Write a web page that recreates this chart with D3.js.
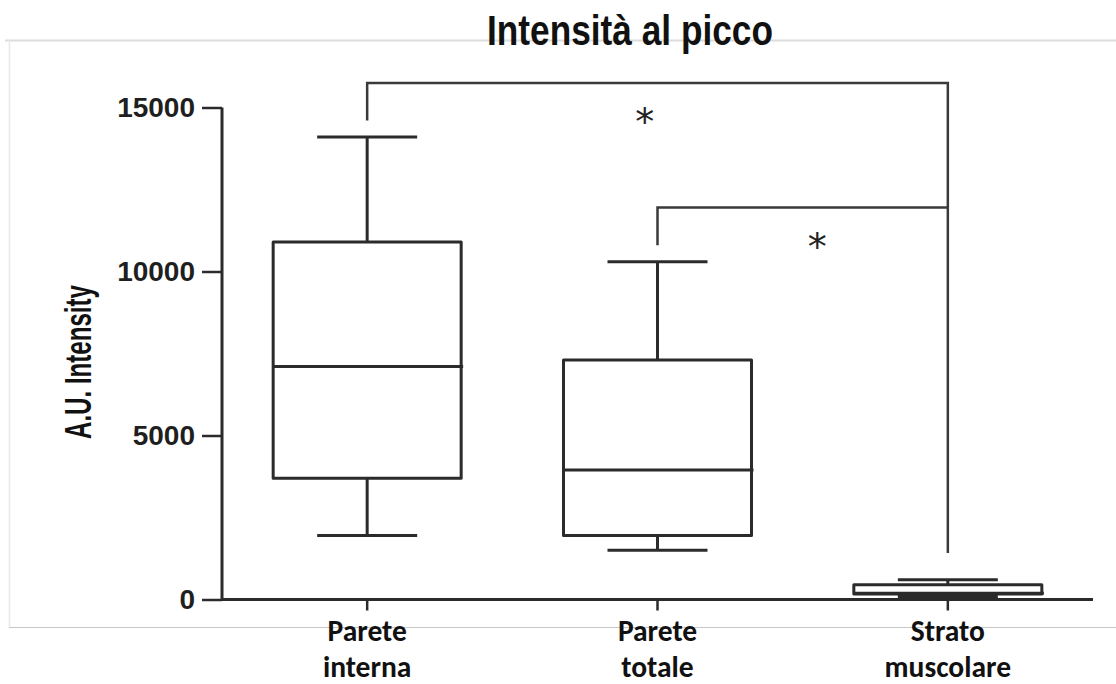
<!DOCTYPE html>
<html>
<head>
<meta charset="utf-8">
<script src="https://cdn.jsdelivr.net/npm/d3@7"></script>
<style>
  html, body { margin: 0; padding: 0; background: #fff; }
  svg { display: block; }
</style>
</head>
<body>
<svg id="chart" width="1116" height="684"></svg>
<script>
// Peak intensity per tissue layer (box-and-whisker summary)
const categories = ["Parete interna", "Parete totale", "Strato muscolare"];
const labelLines = [["Parete", "interna"], ["Parete", "totale"], ["Strato", "muscolare"]];
const whiskerHigh = [14100, 10300, 600];
const quartile3   = [10900, 7300, 450];
const medians     = [7100, 3950, 190];
const quartile1   = [3700, 1950, 170];
const whiskerLow  = [1950, 1500, 90];
const yTicks = [0, 5000, 10000, 15000];

// Significance brackets: from group -> to group, bar height, leg ends
const brackets = [
  { from: 0, to: 2, level: 15750, leftEnd: 14600, rightEnd: 1420, label: "*" },
  { from: 1, to: 2, level: 11950, leftEnd: 10800, rightEnd: 11950, label: "*" }
];
// where each star sits along its bracket (fraction of the span)
const starAt = [0.478, 0.55];

const svg = d3.select("#chart");
const ink = "#2b2b2b";

// Picture frame
svg.append("line").attr("x1", 5).attr("x2", 1116).attr("y1", 40.5).attr("y2", 40.5)
  .attr("stroke", "#dcdcdc").attr("stroke-width", 2);
svg.append("line").attr("x1", 9.5).attr("x2", 9.5).attr("y1", 40).attr("y2", 628)
  .attr("stroke", "#e8e8e8").attr("stroke-width", 1.5);
svg.append("line").attr("x1", 9).attr("x2", 1116).attr("y1", 627.5).attr("y2", 627.5)
  .attr("stroke", "#c8c8c8").attr("stroke-width", 1);

const x = d3.scaleBand().domain(categories).range([222, 1093]).paddingInner(0).paddingOuter(0);
const y = d3.scaleLinear().domain([0, 15000]).range([599.5, 107.5]);
const cx = c => x(c) + x.bandwidth() / 2;
const boxW = 188, capW = 100;
const narrow = "'Liberation Sans Narrow', 'Arial Narrow', 'Liberation Sans', Arial, sans-serif";

// Title
svg.append("text")
  .attr("x", 630).attr("y", 45)
  .attr("text-anchor", "middle")
  .attr("font-family", narrow)
  .attr("font-weight", "bold").attr("font-size", 43)
  .attr("textLength", 286).attr("lengthAdjust", "spacingAndGlyphs")
  .attr("fill", "#111")
  .text("Intensità al picco");

// Y axis
const yAxis = svg.append("g")
  .attr("transform", "translate(222,0)")
  .call(d3.axisLeft(y).tickValues(yTicks).tickSize(20).tickPadding(7).tickFormat(d3.format("d")));
yAxis.select(".domain").attr("stroke", ink).attr("stroke-width", 3).attr("d", `M0,${y(15000)}V${y(0)}`);
yAxis.selectAll(".tick line").attr("stroke", ink).attr("stroke-width", 2.5);
yAxis.selectAll(".tick text")
  .attr("font-family", "'Liberation Sans', Arial, sans-serif")
  .attr("font-weight", "bold").attr("font-size", 28).attr("fill", "#1f1f1f");

// Y axis title
svg.append("text")
  .attr("transform", `translate(91,362) rotate(-90)`)
  .attr("text-anchor", "middle")
  .attr("font-family", narrow)
  .attr("font-weight", "bold").attr("font-size", 37)
  .attr("textLength", 154).attr("lengthAdjust", "spacingAndGlyphs")
  .attr("fill", "#111")
  .text("A.U. Intensity");

// X axis
const xAxis = svg.append("g")
  .attr("transform", `translate(0,${y(0)})`)
  .call(d3.axisBottom(x).tickSize(11).tickFormat(""));
xAxis.select(".domain").attr("stroke", ink).attr("stroke-width", 3).attr("d", `M222,0H1093`);
xAxis.selectAll(".tick line").attr("stroke", ink).attr("stroke-width", 2.5);

// Category labels (two lines each, drawn as separate text rows)
const rows = svg.append("g")
  .attr("text-anchor", "middle")
  .attr("font-family", "Carlito, Lato, 'Open Sans', sans-serif")
  .attr("font-weight", "bold").attr("font-size", 29.5).attr("fill", "#111");
categories.forEach((c, i) => {
  rows.selectAll(null).data(labelLines[i]).join("text")
    .attr("x", cx(c))
    .attr("y", (t, j) => 641 + j * 36)
    .text(t => t);
});

// Boxes
const g = svg.append("g").attr("fill", "none").attr("stroke", ink).attr("stroke-width", 3)
  .attr("stroke-linejoin", "round");
categories.forEach((c, i) => {
  const xc = cx(c);
  g.append("line").attr("x1", xc).attr("x2", xc).attr("y1", y(whiskerHigh[i])).attr("y2", y(quartile3[i]));
  g.append("line").attr("x1", xc).attr("x2", xc).attr("y1", y(quartile1[i])).attr("y2", y(whiskerLow[i]));
  g.append("line").attr("x1", xc - capW / 2).attr("x2", xc + capW / 2)
    .attr("y1", y(whiskerHigh[i])).attr("y2", y(whiskerHigh[i]));
  g.append("line").attr("x1", xc - capW / 2).attr("x2", xc + capW / 2)
    .attr("y1", y(whiskerLow[i])).attr("y2", y(whiskerLow[i]));
  g.append("rect").attr("x", xc - boxW / 2).attr("width", boxW)
    .attr("y", y(quartile3[i])).attr("height", y(quartile1[i]) - y(quartile3[i]))
    .attr("fill", "#fff");
  g.append("line").attr("x1", xc - boxW / 2).attr("x2", xc + boxW / 2 + 2)
    .attr("y1", y(medians[i])).attr("y2", y(medians[i]));
});

// Significance brackets
const b = svg.append("g").attr("fill", "none").attr("stroke", "#3a3a3a").attr("stroke-width", 2.5);
brackets.forEach((br, k) => {
  const x1 = cx(categories[br.from]), x2 = cx(categories[br.to]);
  b.append("path").attr("d",
    `M${x1},${y(br.leftEnd)}V${y(br.level)}H${x2}V${y(br.rightEnd)}`);
  svg.append("text")
    .attr("x", x1 + starAt[k] * (x2 - x1)).attr("y", y(br.level) + 52)
    .attr("text-anchor", "middle")
    .attr("font-family", "'DejaVu Sans', sans-serif").attr("font-size", 38).attr("fill", "#222")
    .text(br.label);
});
</script>
</body>
</html>
